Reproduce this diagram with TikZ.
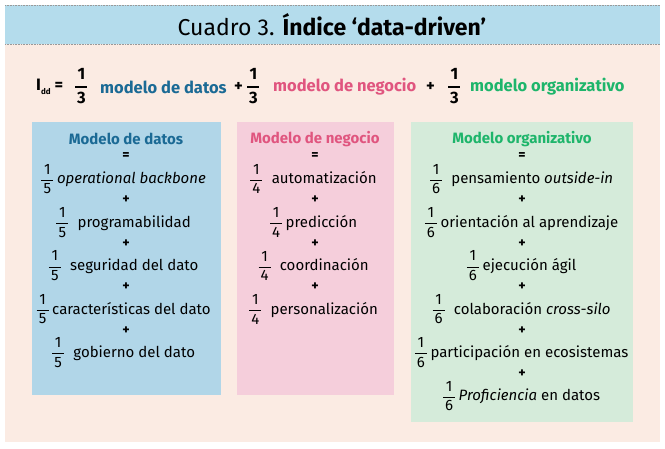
\documentclass[tikz,border=0pt]{standalone}
\usepackage{amsmath}
\usepackage{fontspec}
\setmainfont{Fira Sans}
\usetikzlibrary{positioning}
\definecolor{headblue}{HTML}{B4DCEC}
\definecolor{peach}{HTML}{FBEBE3}
\definecolor{boxblue}{HTML}{B1D6E8}
\definecolor{boxpink}{HTML}{F5CEDB}
\definecolor{boxgreen}{HTML}{D5EBDA}
\definecolor{txtblue}{HTML}{1B6A95}
\definecolor{txtpink}{HTML}{E0557F}
\definecolor{txtgreen}{HTML}{1EB56B}
\newcommand{\fr}[1]{$\genfrac{}{}{0.8pt}{0}{\makebox[12pt]{1}}{\makebox[12pt]{#1}}$}
\newcommand{\bfr}[1]{$\genfrac{}{}{1.4pt}{0}{\makebox[12pt]{\bfseries 1}}{\makebox[12pt]{\bfseries #1}}$}
\tikzset{
	titlenode/.style={
			inner sep=0pt,
			font=\fontsize{23}{23}\selectfont
		},
	formnode/.style={
			inner sep=0pt,
			anchor=west,
			font=\bfseries\fontsize{16.5}{16.5}\selectfont
		},
	colhead/.style={
			inner sep=0pt,
			font=\bfseries\fontsize{15}{15}\selectfont
		},
	itemnode/.style={
			inner sep=0pt,
			font=\fontsize{15}{15}\selectfont
		},
	plusnode/.style={
			inner sep=0pt,
			font=\bfseries\fontsize{14}{14}\selectfont
		},
	dotline/.style={
			gray!80,
			line width=0.8pt,
			dash pattern=on 0.8pt off 0.8pt
		}
}
\begin{document}
\begin{tikzpicture}[x=1pt, y=-1pt]
\useasboundingbox (0,0) rectangle (665,449);
\fill[white] (0,0) rectangle (665,449);
\fill[headblue] (5,5) rectangle (660,44);
\fill[peach] (5,44) rectangle (660,442);
\draw[dotline] (5,5) -- (660,5);
\draw[dotline] (5,44) -- (660,44);

% title
\node[titlenode] (title) at (332,25) {Cuadro 3. \textbf{Índice ‘data-driven’}};

% formula
\node[formnode] (idd) at (36,87) {I\raisebox{-4pt}{\fontsize{8}{8}\selectfont dd}\hspace{4pt}=};
\node[formnode] (f1) at (74,86) {\bfr{3}};
\node[formnode, text=txtblue] (mdat) at (100,87) {modelo de datos};
\node[formnode] (p1) at (234,87) {+};
\node[formnode] (f2) at (246,86) {\bfr{3}};
\node[formnode, text=txtpink] (mneg) at (273,87) {modelo de negocio};
\node[formnode] (p2) at (426,87) {+};
\node[formnode] (f3) at (447,86) {\bfr{3}};
\node[formnode, text=txtgreen] (morg) at (470,87) {modelo organizativo};

% column boxes
\fill[boxblue] (32,122) rectangle (221,395);
\fill[boxpink] (237,122) rectangle (394,395);
\fill[boxgreen] (411,122) rectangle (633,422);

% modelo de datos
\node[colhead, text=txtblue] (dhead) at (126,139) {Modelo de datos};
\node[plusnode] (deq) at (126,156) {=};
\node[itemnode] (d1) at (123,179) {\fr{5}\,\textit{operational backbone}};
\node[itemnode] (d2) at (123,222.4) {\fr{5}\; programabilidad};
\node[itemnode] (d3) at (123,265.8) {\fr{5}\; seguridad del dato};
\node[itemnode] (d4) at (123,309.2) {\fr{5}\,características del dato};
\node[itemnode] (d5) at (123,352.6) {\fr{5}\; gobierno del dato};
\foreach \i in {0,...,3}
  \node[plusnode] (dp\i) at (126,{200+43.4*\i}) {+};

% modelo de negocio
\node[colhead, text=txtpink] (nhead) at (315,139) {Modelo de negocio};
\node[plusnode] (neq) at (315,156) {=};
\node[itemnode] (n1) at (313,179) {\fr{4}\; automatización};
\node[itemnode] (n2) at (313,222.4) {\fr{4}\,predicción};
\node[itemnode] (n3) at (313,265.8) {\fr{4}\; coordinación};
\node[itemnode] (n4) at (313,309.2) {\fr{4}\; personalización};
\foreach \i in {0,...,2}
  \node[plusnode] (np\i) at (315,{200+43.4*\i}) {+};

% modelo organizativo
\node[colhead, text=txtgreen] (ohead) at (522,139) {Modelo organizativo};
\node[plusnode] (oeq) at (522,156) {=};
\node[itemnode] (o1) at (521,179) {\fr{6}\; pensamiento \textit{outside-in}};
\node[itemnode] (o2) at (521,222.4) {\fr{6}\,orientación al aprendizaje};
\node[itemnode] (o3) at (521,265.8) {\fr{6}\,ejecución ágil};
\node[itemnode] (o4) at (521,309.2) {\fr{6}\; colaboración \textit{cross-silo}};
\node[itemnode] (o5) at (521,352.6) {\fr{6}\,participación en ecosistemas};
\node[itemnode] (o6) at (521,396) {\fr{6}\,\textit{Proficiencia} en datos};
\foreach \i in {0,...,4}
  \node[plusnode] (op\i) at (522,{200+43.4*\i}) {+};
\end{tikzpicture}
\end{document}
